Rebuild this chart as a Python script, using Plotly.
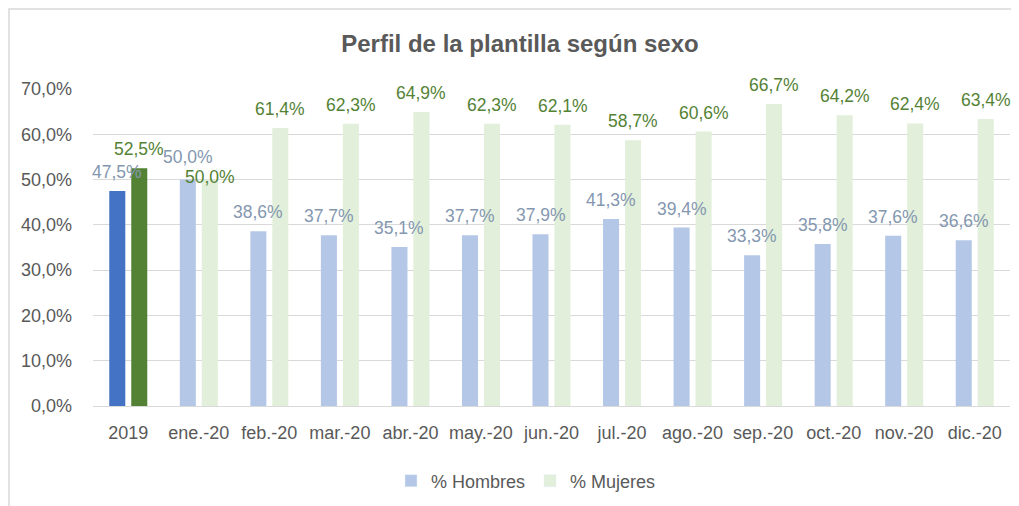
import plotly.graph_objects as go

categories = ["2019", "ene.-20", "feb.-20", "mar.-20", "abr.-20", "may.-20", "jun.-20",
              "jul.-20", "ago.-20", "sep.-20", "oct.-20", "nov.-20", "dic.-20"]
hombres = [47.5, 50.0, 38.6, 37.7, 35.1, 37.7, 37.9, 41.3, 39.4, 33.3, 35.8, 37.6, 36.6]
mujeres = [52.5, 50.0, 61.4, 62.3, 64.9, 62.3, 62.1, 58.7, 60.6, 66.7, 64.2, 62.4, 63.4]

C_H_DARK, C_H_LIGHT = "#4472C4", "#B4C7E7"
C_M_DARK, C_M_LIGHT = "#548235", "#E2EFDA"
C_H_TXT, C_M_TXT = "#8497B0", "#548235"
FONT = "Liberation Sans"
FS = 18
FS_LBL = 17.5

# the page body has an 8px margin, so the figure is offset by 8px
OFF = 8
W, H = 1019 - OFF, 506 - OFF
L, R, T, B = 93 - OFF, 9, 89 - OFF, 100
pw, ph = W - L - R, H - T - B

xi = list(range(len(categories)))

fig = go.Figure()
fig.add_trace(go.Bar(
    x=xi, y=[v / 100 for v in hombres], name="% Hombres", showlegend=False, offsetgroup="h",
    marker=dict(color=[C_H_DARK] + [C_H_LIGHT] * (len(categories) - 1), line=dict(width=0)),
))
fig.add_trace(go.Bar(
    x=xi, y=[v / 100 for v in mujeres], name="% Mujeres", showlegend=False, offsetgroup="m",
    marker=dict(color=[C_M_DARK] + [C_M_LIGHT] * (len(categories) - 1), line=dict(width=0)),
))
# legend entries (light colours as in the reference legend)
fig.add_trace(go.Bar(x=[0], y=[None], name="% Hombres", marker=dict(color=C_H_LIGHT),
                     showlegend=True, hoverinfo="skip", offsetgroup="h"))
fig.add_trace(go.Bar(x=[0], y=[None], name="% Mujeres", marker=dict(color=C_M_LIGHT),
                     showlegend=True, hoverinfo="skip", offsetgroup="m"))

def fmt(v):
    return f"{v:.1f}".replace(".", ",") + "%"

annotations = []
for i, c in enumerate(categories):
    ysh_h, ysh_m = 19, 19
    if c == "ene.-20":
        ysh_h, ysh_m = 23, 3
    annotations.append(dict(x=i, y=hombres[i] / 100, text=fmt(hombres[i]), xref="x", yref="y",
                            showarrow=False, xshift=-11, yshift=ysh_h,
                            font=dict(family=FONT, size=FS_LBL, color=C_H_TXT)))
    annotations.append(dict(x=i, y=mujeres[i] / 100, text=fmt(mujeres[i]), xref="x", yref="y",
                            showarrow=False, xshift=11, yshift=ysh_m,
                            font=dict(family=FONT, size=FS_LBL, color=C_M_TXT)))

fig.update_layout(
    width=W, height=H,
    margin=dict(l=L, r=R, t=T, b=B, autoexpand=False),
    paper_bgcolor="white", plot_bgcolor="white",
    separators=",.",
    barmode="group", bargap=0.377, bargroupgap=0.27,
    font=dict(family=FONT, size=FS, color="#595959"),
    title=dict(text="<b>Perfil de la plantilla según sexo</b>", x=(520 - OFF) / W, xanchor="center",
               y=1 - (44 - OFF) / H, yanchor="middle", font=dict(family=FONT, size=24, color="#595959")),
    xaxis=dict(range=[-0.5, len(categories) - 0.5], tickmode="array", tickvals=xi, ticktext=categories,
               showgrid=False, showline=True, linecolor="#D9D9D9", linewidth=1, zeroline=False,
               ticks="", ticklabelstandoff=10, automargin=False,
               tickfont=dict(size=FS, color="#595959")),
    yaxis=dict(range=[0, 0.7], dtick=0.1, tickformat=".1%", showgrid=True, gridcolor="#D9D9D9",
               gridwidth=1, zeroline=False, showline=False, ticks="", ticklabelstandoff=20,
               automargin=False, tickfont=dict(size=FS, color="#595959")),
    legend=dict(orientation="h", x=(526 - OFF - L) / pw, xanchor="center", y=-(481 - 406) / ph,
                yanchor="middle", font=dict(size=FS, color="#595959"), itemwidth=30,
                traceorder="normal"),
    annotations=annotations,
    shapes=[dict(type="rect", xref="paper", yref="paper",
                 x0=(1 - L) / pw, x1=(W + 10 - L) / pw,
                 y0=(T + ph - (H + 10)) / ph, y1=(T + ph - 1) / ph,
                 line=dict(color="#D9D9D9", width=1.5), fillcolor="rgba(0,0,0,0)", layer="below")],
)

fig.write_html("out.html")
